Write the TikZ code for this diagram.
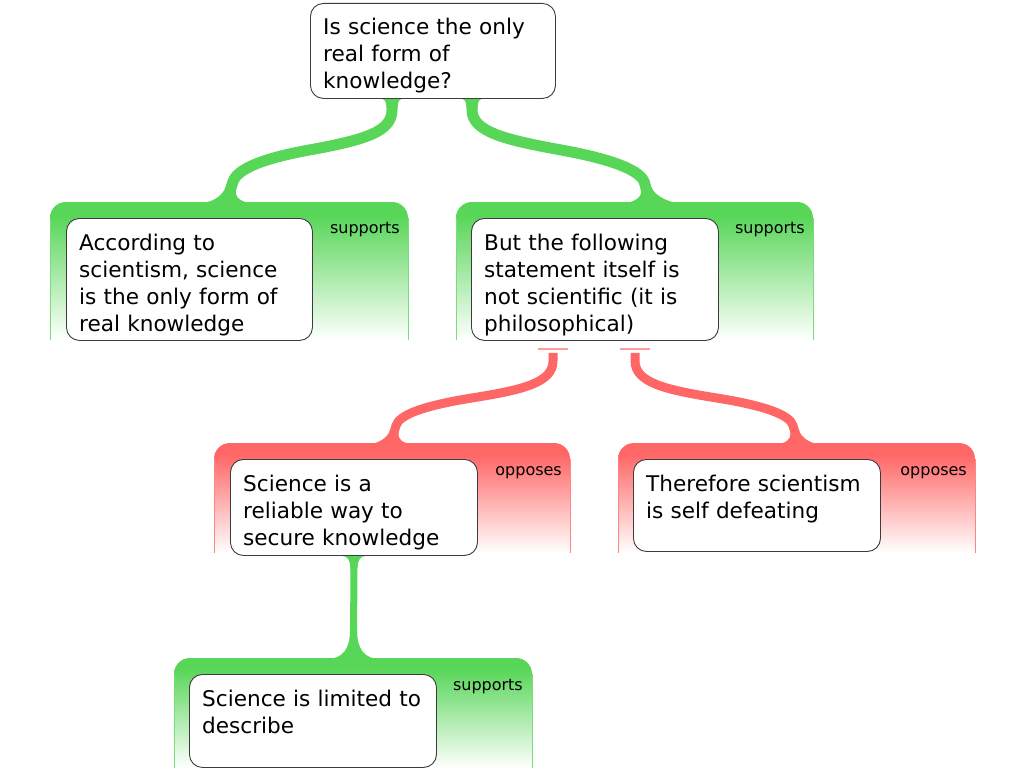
\documentclass[tikz,border=0pt]{standalone}
\usepackage{fontspec}
\setmainfont{DejaVu Sans}
\usetikzlibrary{calc,backgrounds}
\definecolor{gcol}{RGB}{88,214,88}
\definecolor{rcol}{RGB}{255,102,102}
\definecolor{edgecol}{RGB}{60,60,60}
\pgfdeclareverticalshading{gfade}{100bp}{color(0bp)=(white); color(25bp)=(white); color(70bp)=(gcol); color(100bp)=(gcol)}
\pgfdeclareverticalshading{rfade}{100bp}{color(0bp)=(white); color(25bp)=(white); color(70bp)=(rcol); color(100bp)=(rcol)}
\newcommand{\mycontainer}[6]{%
  \shade[shading=#1] (#3,#6) -- (#3,#4+16) .. controls (#3,#4+7) and (#3+7,#4) .. (#3+16,#4) -- (#5-16,#4) .. controls (#5-7,#4) and (#5,#4+7) .. (#5,#4+16) -- (#5,#6) -- cycle;
  \draw[#2, line width=1pt] (#3,#6) -- (#3,#4+16);
  \draw[#2, line width=1pt] (#5,#6) -- (#5,#4+16);
}
\begin{document}
\begin{tikzpicture}[x=1pt,y=-1pt,
  tbox/.style={draw=edgecol, line width=0.9pt, fill=white, rounded corners=13pt, inner sep=0pt, anchor=north west},
  ttext/.style={font=\fontsize{21.6}{27}\selectfont, text width=236pt, align=left, inner sep=0pt, anchor=base west, text=black},
  lbl/.style={font=\fontsize{16}{19}\selectfont, inner sep=0pt, anchor=base east, text=black},
  gline/.style={draw=gcol, line width=11pt},
  rline/.style={draw=rcol, line width=9pt},
  vline/.style={draw=gcol, line width=7pt},
  markline/.style={draw=rcol!65, line width=1.5pt}]
\useasboundingbox (0,0) rectangle (1024,768);

% text boxes
\node[tbox, minimum width=245pt, minimum height=95pt] (q) at (310,3) {};
\node[ttext] (qt) at ($(q.north west)+(13,32)$) {Is science the only\\real form of\\knowledge?};
\node[tbox, minimum width=246pt, minimum height=122pt] (a1) at (66,218) {};
\node[ttext] (a1t) at ($(a1.north west)+(13,32)$) {According to\\scientism, science\\is the only form of\\real knowledge};
\node[tbox, minimum width=247pt, minimum height=122pt] (a2) at (471,218) {};
\node[ttext] (a2t) at ($(a2.north west)+(13,32)$) {But the following\\statement itself is\\not scientific (it is\\philosophical)};
\node[tbox, minimum width=247pt, minimum height=96pt] (b1) at (230,459) {};
\node[ttext] (b1t) at ($(b1.north west)+(13,32)$) {Science is a\\reliable way to\\secure knowledge};
\node[tbox, minimum width=247pt, minimum height=92pt] (b2) at (633,459) {};
\node[ttext] (b2t) at ($(b2.north west)+(13,32)$) {Therefore scientism\\is self defeating};
\node[tbox, minimum width=247pt, minimum height=93pt] (c1) at (189,674) {};
\node[ttext] (c1t) at ($(c1.north west)+(13,32)$) {Science is limited to\\describe};

% relation labels
\node[lbl] (l1) at (400,233) {supports};
\node[lbl] (l2) at (805,233) {supports};
\node[lbl] (l3) at (562,475) {opposes};
\node[lbl] (l4) at (967,475) {opposes};
\node[lbl] (l5) at (523,690) {supports};

% container corners
\coordinate (G1) at (50,202);
\coordinate (G2) at (456,202);
\coordinate (R1) at (214,443);
\coordinate (R2) at (618,443);
\coordinate (G3) at (174,658);

% connector end points
\coordinate (s1) at ($(q.south west)+(82,-1)$);
\coordinate (s2) at ($(q.south west)+(162,-1)$);
\coordinate (e1) at ($(G1)+(177,0)$);
\coordinate (e2) at ($(G2)+(194,0)$);
\coordinate (s3) at ($(a2.south west)+(82,12)$);
\coordinate (s4) at ($(a2.south west)+(164,12)$);
\coordinate (e3) at ($(R1)+(177,0)$);
\coordinate (e4) at ($(R2)+(180,0)$);
\coordinate (s5) at (b1.south);
\coordinate (e5) at ($(G3)+(179.5,0)$);

\begin{pgfonlayer}{background}
  \mycontainer{gfade}{gcol!80}{50}{202}{408}{340}
  \mycontainer{gfade}{gcol!80}{456}{202}{813}{340}
  \mycontainer{rfade}{rcol!80}{214}{443}{570}{553}
  \mycontainer{rfade}{rcol!80}{618}{443}{975}{553}
  \mycontainer{gfade}{gcol!80}{174}{658}{532}{768}

  % q -> left green
  \draw[gline] (s1) -- ++(0,12) .. controls +(0,22) and +(55,-10) .. ($(s1)!.5!(e1)$) .. controls +(-55,10) and +(3.3,-11.5) .. ($(e1)+(5.5,-19.2)$) -- (e1);
  \fill[gcol, shift={(s1)}] (-14,0) .. controls (-7,0) and (-5.5,4) .. (-5.5,10) -- (5.5,10) .. controls (5.5,4) and (7,0) .. (14,0) -- cycle;
  \fill[gcol, shift={(e1)}] (-27,1) .. controls (-14,1) and (-3.65,-7.3) .. (-1.45,-15) -- (9.15,-12) .. controls (7.2,-5.3) and (14,1) .. (26,1) -- cycle;

  % q -> right green
  \draw[gline] (s2) -- ++(0,12) .. controls +(0,22) and +(-55,-10) .. ($(s2)!.5!(e2)$) .. controls +(55,10) and +(-3.3,-11.5) .. ($(e2)+(-5.5,-19.2)$) -- (e2);
  \fill[gcol, shift={(s2)}] (-14,0) .. controls (-7,0) and (-5.5,4) .. (-5.5,10) -- (5.5,10) .. controls (5.5,4) and (7,0) .. (14,0) -- cycle;
  \fill[gcol, shift={(e2)}] (-27,1) .. controls (-16,1) and (-7.2,-5.3) .. (-9.15,-12) -- (1.45,-15) .. controls (3.65,-7.3) and (18,1) .. (30,1) -- cycle;

  % a2 -> left red
  \draw[markline] ($(s3)+(-15,-4)$) -- ($(s3)+(15,-4)$);
  \draw[rline] (s3) -- ++(0,8) .. controls +(0,22) and +(50,-8) .. ($(s3)!.5!(e3)$) .. controls +(-50,8) and +(3,-10.5) .. ($(e3)+(4.95,-17.3)$) -- (e3);
  \fill[rcol, shift={(e3)}] (-23,1) .. controls (-12,1) and (-2.96,-6.0) .. (-1.03,-12.74) -- (7.63,-10.26) .. controls (5.98,-4.5) and (12,1) .. (22,1) -- cycle;

  % a2 -> right red
  \draw[markline] ($(s4)+(-15,-4)$) -- ($(s4)+(15,-4)$);
  \draw[rline] (s4) -- ++(0,8) .. controls +(0,22) and +(-50,-8) .. ($(s4)!.5!(e4)$) .. controls +(50,8) and +(-3,-10.5) .. ($(e4)+(-4.95,-17.3)$) -- (e4);
  \fill[rcol, shift={(e4)}] (-21,1) .. controls (-13,1) and (-5.98,-4.5) .. (-7.63,-10.26) -- (1.03,-12.74) .. controls (2.96,-6.0) and (12,1) .. (22,1) -- cycle;

  % b1 -> bottom green
  \draw[vline] (s5) -- (e5);
  \fill[gcol, shift={(s5)}] (-12,0) .. controls (-6,0) and (-3.5,5) .. (-3.5,13) -- (3.5,13) .. controls (3.5,5) and (6,0) .. (12,0) -- cycle;
  \fill[gcol, shift={(e5)}] (-27,1) .. controls (-10,1) and (-3.5,-10) .. (-3.5,-28) -- (3.5,-28) .. controls (3.5,-10) and (10,1) .. (27,1) -- cycle;
\end{pgfonlayer}
\end{tikzpicture}
\end{document}
